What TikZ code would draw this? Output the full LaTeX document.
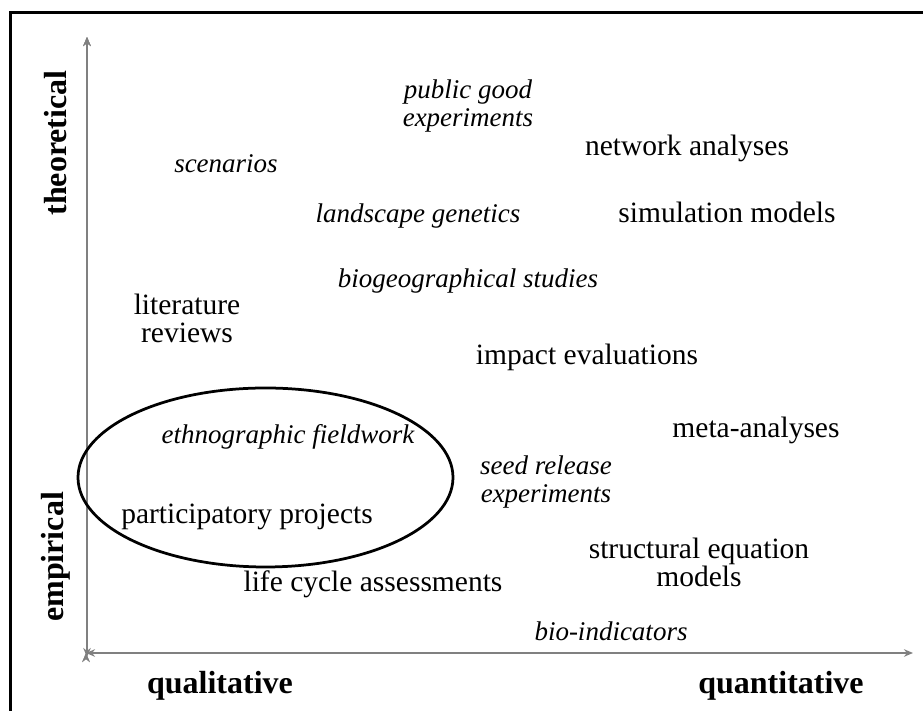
\documentclass[tikz,border=0pt]{standalone}
\usepackage{fontspec}
\setmainfont{Liberation Serif}
\usetikzlibrary{arrows.meta}
\tikzset{
  method/.style={font=\fontsize{11.8}{11.2}\selectfont, align=center, inner sep=0pt},
  itmethod/.style={font=\fontsize{10.8}{11.2}\selectfont\itshape, align=center, inner sep=0pt},
  axislabel/.style={font=\fontsize{12.8}{14}\selectfont\bfseries, inner sep=0pt},
  axis/.style={draw=black!50, line width=0.6pt, >={Stealth[length=3.6pt,width=3pt]}},
}
\begin{document}
\begin{tikzpicture}[x=0.4pt,y=-0.4pt]
            \useasboundingbox (0,0) rectangle (923,711);
            \fill[white] (0,0) rectangle (923,711);
            % frame
            \draw[line width=1.3pt] (10.5,711) -- (10.5,12.5) -- (923,12.5);

            % axes
            \coordinate (ytop) at (87,37);
            \coordinate (ybot) at (87,657);
            \coordinate (xleft) at (86,653);
            \coordinate (xright) at (913,653);
            \path [axis,<->](ytop) edge (ybot);
            \path [axis,<->](xleft) edge (xright);

            % axis labels
            \node[axislabel,rotate=90] (theo) at (56,143) {theoretical};
            \node[axislabel,rotate=90] (emp) at (56,557) {empirical};
            \node[axislabel] (qual) at (220,686) {qualitative};
            \node[axislabel] (quant) at (781,686) {quantitative};

            % methods
            \node[itmethod] (pge) at (468,106) {public good\\experiments};
            \node[itmethod] (scen) at (226,164) {scenarios};
            \node[method] (net) at (687,148) {network analyses};
            \node[itmethod] (land) at (418,216) {landscape genetics};
            \node[method] (sim) at (727,212) {simulation models};
            \node[itmethod] (biogeo) at (468,281) {biogeographical studies};
            \node[method] (lit) at (187,318) {literature\\reviews};
            \node[method] (imp) at (587,357) {impact evaluations};
            \node[method] (meta) at (756,430) {meta-analyses};
            \node[itmethod] (ethno) at (288,437) {ethnographic fieldwork};
            \node[itmethod] (seed) at (546,482) {seed release\\experiments};
            \node[method] (part) at (247,517) {participatory projects};
            \node[method] (sem) at (699,562) {structural equation\\models};
            \node[method] (lca) at (373,584) {life cycle assessments};
            \node[itmethod] (bio) at (611,631) {bio-indicators};

            % qualitative empirical group
            \draw[line width=1.1pt] (265.5,477.5) ellipse [x radius=75pt, y radius=35.8pt];
        \end{tikzpicture}
\end{document}
